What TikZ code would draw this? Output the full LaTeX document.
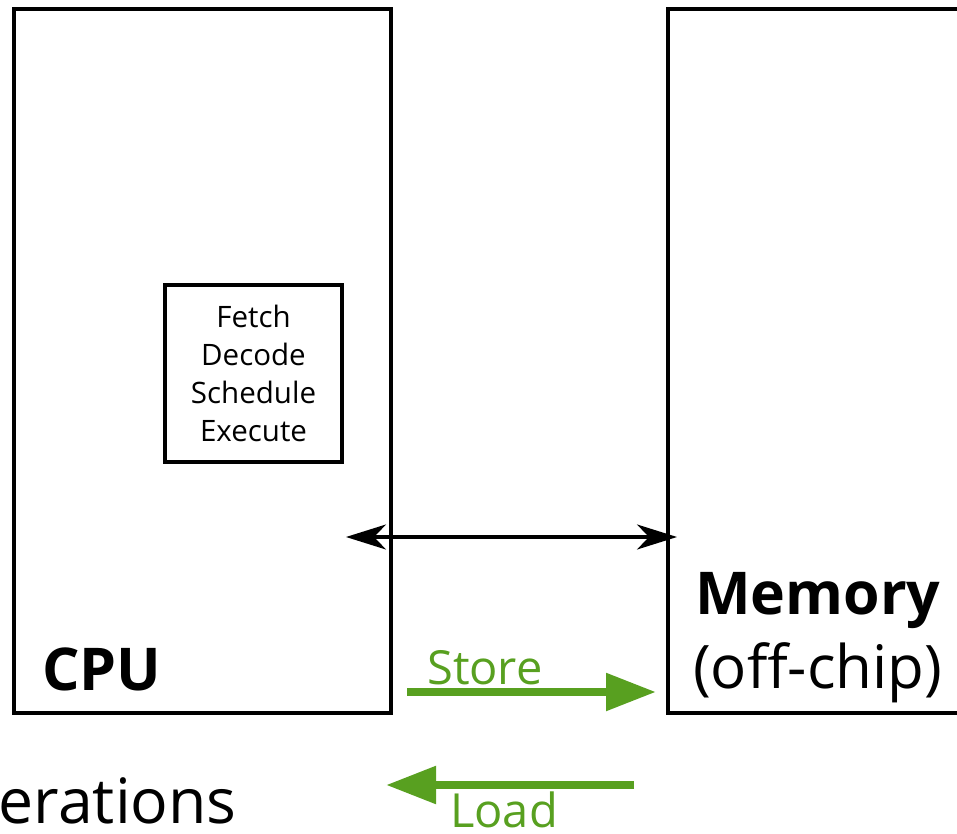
\documentclass[tikz,border=0pt]{standalone}
\usepackage{fontspec}
\setmainfont{Open Sans}
\usetikzlibrary{arrows.meta}
\definecolor{grn}{RGB}{88,160,32}
\begin{document}
\begin{tikzpicture}[x=1pt,y=1pt,
  boxline/.style={draw=black,line width=3.5pt},
  bigbold/.style={font=\fontsize{59}{70}\selectfont\bfseries,inner sep=0pt},
  bigtext/.style={font=\fontsize{60}{70}\selectfont,inner sep=0pt},
  greentext/.style={font=\fontsize{47}{56}\selectfont,text=grn,inner sep=0pt},
  greenarrow/.style={draw=grn,line width=8.5pt,-{Triangle[length=50pt,width=36pt]}},
  busarrow/.style={draw=black,line width=3.2pt,{Stealth[length=40pt,width=25pt,inset=12pt]}-{Stealth[length=40pt,width=25pt,inset=12pt]}}]
\useasboundingbox (0,0) rectangle (957,833);
\clip (0,0) rectangle (957,833);
\draw[boxline] (14,120) rectangle (391,824);
\draw[boxline] (668,120) rectangle (1000,824);
\node[boxline,minimum width=177pt,minimum height=177pt,inner sep=0pt,align=center,
  font=\fontsize{29.5}{38}\selectfont] (pipe) at (253.5,459.5) {Fetch\\Decode\\Schedule\\Execute};
\node[bigbold,anchor=base west] (cpu) at (42,143) {CPU};
\node[bigbold,anchor=base west] (mem) at (695,219) {Memory};
\node[bigtext,anchor=base west] (off) at (693,145) {(off-chip)};
\node[font=\fontsize{62.5}{72}\selectfont,inner sep=0pt,anchor=base east] (ops) at (237,10) {erations};
\coordinate (busL) at (346,296);
\coordinate (busR) at (677,296);
\draw[busarrow] (busL) -- (busR);
\coordinate (stA) at (407,141);
\coordinate (stB) at (656,141);
\draw[greenarrow] (stA) -- (stB);
\coordinate (ldA) at (634,48);
\coordinate (ldB) at (386,48);
\draw[greenarrow] (ldA) -- (ldB);
\node[greentext,anchor=base west] (store) at (427,149) {Store};
\node[greentext,anchor=base west] (load) at (450,6) {Load};
\end{tikzpicture}
\end{document}
